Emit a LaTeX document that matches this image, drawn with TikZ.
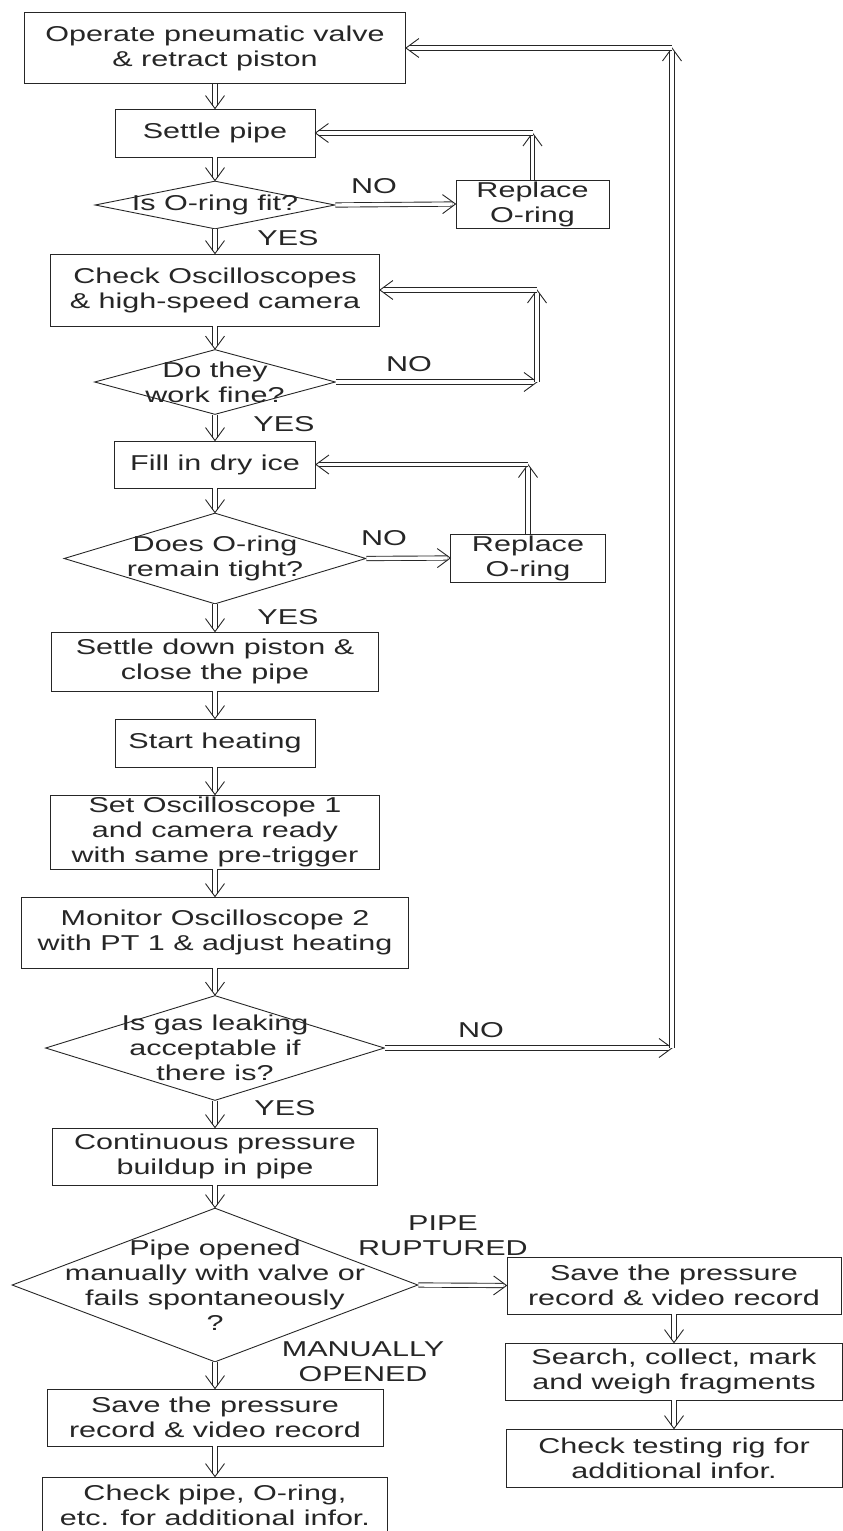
\documentclass[tikz,border=0pt]{standalone}
\usepackage{fontspec}
\setmainfont{Liberation Sans}[FakeStretch=1.42]
\usetikzlibrary{shapes.geometric, arrows.meta}
\colorlet{FlowLine}{black!85}
\colorlet{FlowText}{black!85}

% Open double-line arrow head, drawn as a plain V.
\pgfdeclarearrow{
  name = OpenImplies,
  parameters = {\the\pgfarrowlength,\the\pgfarrowwidth,\the\pgfarrowlinewidth},
  setup code = {
    \pgfarrowssettipend{0pt}
    \pgfarrowssetlineend{-3pt}
    \pgfarrowssetbackend{-\pgfarrowlength}
    \pgfarrowssetvisualbackend{-\pgfarrowlength}
    \pgfarrowssavethe\pgfarrowlength
    \pgfarrowssavethe\pgfarrowwidth
    \pgfarrowssavethe\pgfarrowlinewidth
  },
  drawing code = {
    \pgfsetlinewidth{\pgfarrowlinewidth}
    \pgfsetmiterjoin
    \pgfpathmoveto{\pgfqpoint{-\pgfarrowlength}{.5\pgfarrowwidth}}
    \pgfpathlineto{\pgfqpoint{0pt}{0pt}}
    \pgfpathlineto{\pgfqpoint{-\pgfarrowlength}{-.5\pgfarrowwidth}}
    \pgfusepathqstroke
  },
  defaults = {length = 13pt, width = 19pt, line width = 0.9pt}
}

\tikzset{
  FlowFont/.style={font=\fontsize{21.5}{25}\selectfont, text=FlowText},
  ProcessBox/.style={FlowFont, draw=FlowLine, line width=0.9pt, rectangle, align=center, inner sep=1pt},
  DecisionShape/.style={draw=FlowLine, line width=0.9pt, diamond, inner sep=0pt},
  DecisionText/.style={FlowFont, align=center},
  BranchLabel/.style={FlowFont, align=center, inner sep=0pt},
  FlowArrow/.style={draw=FlowLine, double, double distance=3.4pt, line width=0.9pt, -{OpenImplies[line width=0.9pt]}}
}
\begin{document}
\begin{tikzpicture}[x=1pt, y=-1pt]
    \useasboundingbox (0,0) rectangle (843,1531);

    % Main column, top to bottom.
    \node[ProcessBox, minimum width=381pt, minimum height=71pt] (Valve) at (215,48) {Operate pneumatic valve\\\& retract piston};
    \node[ProcessBox, minimum width=200pt, minimum height=48pt] (SettlePipe) at (215,133) {Settle pipe};
    \node[DecisionShape, minimum width=240pt, minimum height=48pt] (FitCheck) at (215,205) {};
    \node[DecisionText] (FitCheckText) at (FitCheck) {Is O-ring fit?};
    \node[ProcessBox, minimum width=153pt, minimum height=48pt] (ReplaceOne) at (532.5,204) {Replace\\O-ring};
    \node[ProcessBox, minimum width=329pt, minimum height=72pt] (CheckScopes) at (215,290) {Check Oscilloscopes\\\& high-speed camera};
    \node[DecisionShape, minimum width=241pt, minimum height=65pt] (WorkCheck) at (215,382) {};
    \node[DecisionText] (WorkCheckText) at (WorkCheck) {Do they\\work fine?};
    \node[ProcessBox, minimum width=201pt, minimum height=47pt] (FillIce) at (215,464.5) {Fill in dry ice};
    \node[DecisionShape, minimum width=302pt, minimum height=91pt] (TightCheck) at (215,558.5) {};
    \node[DecisionText] (TightCheckText) at (TightCheck) {Does O-ring\\remain tight?};
    \node[ProcessBox, minimum width=154.5pt, minimum height=48pt] (ReplaceTwo) at (528,558) {Replace\\O-ring};
    \node[ProcessBox, minimum width=327pt, minimum height=59pt] (SettleDown) at (215,661.5) {Settle down piston \&\\close the pipe};
    \node[ProcessBox, minimum width=200pt, minimum height=48pt] (StartHeat) at (215,743) {Start heating};
    \node[ProcessBox, minimum width=329pt, minimum height=74pt] (SetScope) at (215,832) {Set Oscilloscope 1\\and camera ready\\with same pre-trigger};
    \node[ProcessBox, minimum width=387pt, minimum height=71pt] (MonitorScope) at (215,932.5) {Monitor Oscilloscope 2\\with PT 1 \& adjust heating};
    \node[DecisionShape, minimum width=339pt, minimum height=105pt] (LeakCheck) at (215,1048) {};
    \node[DecisionText] (LeakCheckText) at (LeakCheck) {Is gas leaking\\acceptable if\\there is?};
    \node[ProcessBox, minimum width=325pt, minimum height=57pt] (BuildUp) at (215,1156.5) {Continuous pressure\\buildup in pipe};
    \node[DecisionShape, minimum width=406pt, minimum height=154pt] (PipeOpen) at (215,1285) {};
    \node[DecisionText] (PipeOpenText) at (PipeOpen) {Pipe opened\\manually with valve or\\fails spontaneously\\?};
    \node[ProcessBox, minimum width=336pt, minimum height=57pt] (SaveManual) at (215,1417.5) {Save the pressure\\record \& video record};
    \node[ProcessBox, minimum width=345pt, minimum height=57pt] (CheckPipe) at (215,1505.5) {Check pipe, O-ring,\\etc. for additional infor.};

    % Right column after rupture.
    \node[ProcessBox, minimum width=334pt, minimum height=57pt] (SaveRupture) at (674,1285.5) {Save the pressure\\record \& video record};
    \node[ProcessBox, minimum width=337pt, minimum height=57pt] (Search) at (674,1371.5) {Search, collect, mark\\and weigh fragments};
    \node[ProcessBox, minimum width=336pt, minimum height=58pt] (CheckRig) at (674,1458) {Check testing rig for\\additional infor.};

    % Branch labels.
    \node[BranchLabel] (NoOne) at (374,186) {NO};
    \node[BranchLabel] (YesOne) at (288,238) {YES};
    \node[BranchLabel] (NoTwo) at (409,364) {NO};
    \node[BranchLabel] (YesTwo) at (284,424) {YES};
    \node[BranchLabel] (NoThree) at (384,538) {NO};
    \node[BranchLabel] (YesThree) at (288,617) {YES};
    \node[BranchLabel] (NoFour) at (481,1030) {NO};
    \node[BranchLabel] (YesFour) at (285,1108) {YES};
    \node[BranchLabel] (Ruptured) at (443,1236) {PIPE\\RUPTURED};
    \node[BranchLabel] (Manually) at (363,1362) {MANUALLY\\OPENED};

    % Corners of the return loops.
    \coordinate (LoopTwoLow) at (537,382);
    \coordinate (LoopTwoHigh) at (537,290);
    \coordinate (LoopBigLow) at (672,1048);
    \coordinate (LoopBigHigh) at (672,48);

    % Downward flow.
    \draw[FlowArrow] (Valve) -- (SettlePipe);
    \draw[FlowArrow] (SettlePipe) -- (FitCheck.north);
    \draw[FlowArrow] (FitCheck.south) -- (CheckScopes);
    \draw[FlowArrow] (CheckScopes) -- (WorkCheck.north);
    \draw[FlowArrow] (WorkCheck.south) -- (FillIce);
    \draw[FlowArrow] (FillIce) -- (TightCheck.north);
    \draw[FlowArrow] (TightCheck.south) -- (SettleDown);
    \draw[FlowArrow] (SettleDown) -- (StartHeat);
    \draw[FlowArrow] (StartHeat) -- (SetScope);
    \draw[FlowArrow] (SetScope) -- (MonitorScope);
    \draw[FlowArrow] (MonitorScope) -- (LeakCheck.north);
    \draw[FlowArrow] (LeakCheck.south) -- (BuildUp);
    \draw[FlowArrow] (BuildUp) -- (PipeOpen.north);
    \draw[FlowArrow] (PipeOpen.south) -- (SaveManual);
    \draw[FlowArrow] (SaveManual) -- (CheckPipe);
    \draw[FlowArrow] (PipeOpen.east) -- (SaveRupture.west);
    \draw[FlowArrow] (SaveRupture) -- (Search);
    \draw[FlowArrow] (Search) -- (CheckRig);

    % Return loops.
    \draw[FlowArrow] (FitCheck.east) -- (ReplaceOne.west);
    \draw[FlowArrow] (ReplaceOne.north) -- (ReplaceOne.north |- SettlePipe.east) coordinate (LoopOne);
    \draw[FlowArrow] (LoopOne) -- (SettlePipe.east);
    \draw[FlowArrow] (WorkCheck.east) -- (LoopTwoLow);
    \draw[FlowArrow] (LoopTwoLow) -- (LoopTwoHigh);
    \draw[FlowArrow] (LoopTwoHigh) -- (CheckScopes.east);
    \draw[FlowArrow] (TightCheck.east) -- (ReplaceTwo.west);
    \draw[FlowArrow] (ReplaceTwo.north) -- (ReplaceTwo.north |- FillIce.east) coordinate (LoopThree);
    \draw[FlowArrow] (LoopThree) -- (FillIce.east);
    \draw[FlowArrow] (LeakCheck.east) -- (LoopBigLow);
    \draw[FlowArrow] (LoopBigLow) -- (LoopBigHigh);
    \draw[FlowArrow] (LoopBigHigh) -- (Valve.east);
\end{tikzpicture}
\end{document}
